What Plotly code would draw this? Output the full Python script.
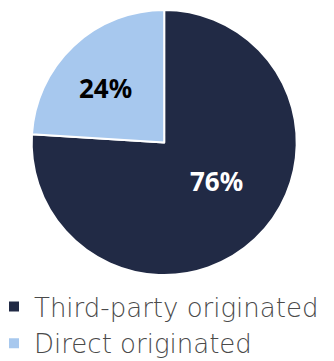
import plotly.graph_objects as go

labels = ["Third-party originated", "Direct originated"]
values = [76, 24]
colors = ["#212a45", "#a7c8ee"]
text_colors = ["#ffffff", "#000000"]
# label anchor points (px)
label_px = [(216, 181), (105, 88)]

W, H = 334, 361
cx, cy, r = 164.2, 142.5, 132.5

fig = go.Figure(go.Pie(
    labels=labels,
    values=values,
    sort=False,
    direction="clockwise",
    rotation=0,
    marker=dict(colors=colors, line=dict(color="#ffffff", width=2)),
    textinfo="none",
    hoverinfo="label+percent",
    domain=dict(x=[(cx - r) / W, (cx + r) / W], y=[1 - (cy + r) / H, 1 - (cy - r) / H]),
))

for v, c, (px, py) in zip(values, text_colors, label_px):
    fig.add_annotation(
        x=px / W, y=1 - py / H, xref="paper", yref="paper",
        xanchor="center", yanchor="middle", showarrow=False,
        text=f"{v}%",
        font=dict(family="Noto Sans", size=26, color=c, weight="bold"),
    )

fig.update_layout(
    width=W, height=H,
    margin=dict(l=0, r=0, t=0, b=0, autoexpand=False),
    paper_bgcolor="#ffffff",
    showlegend=True,
    legend=dict(
        x=-6 / W, y=1 - 283 / H, xanchor="left", yanchor="top",
        font=dict(family="DejaVu Sans", size=26, color="#4a4a4a", weight=300),
        bgcolor="rgba(0,0,0,0)",
    ),
)
fig.write_html("out.html", config={"displayModeBar": False},
               post_script="document.body.style.margin='0';")
